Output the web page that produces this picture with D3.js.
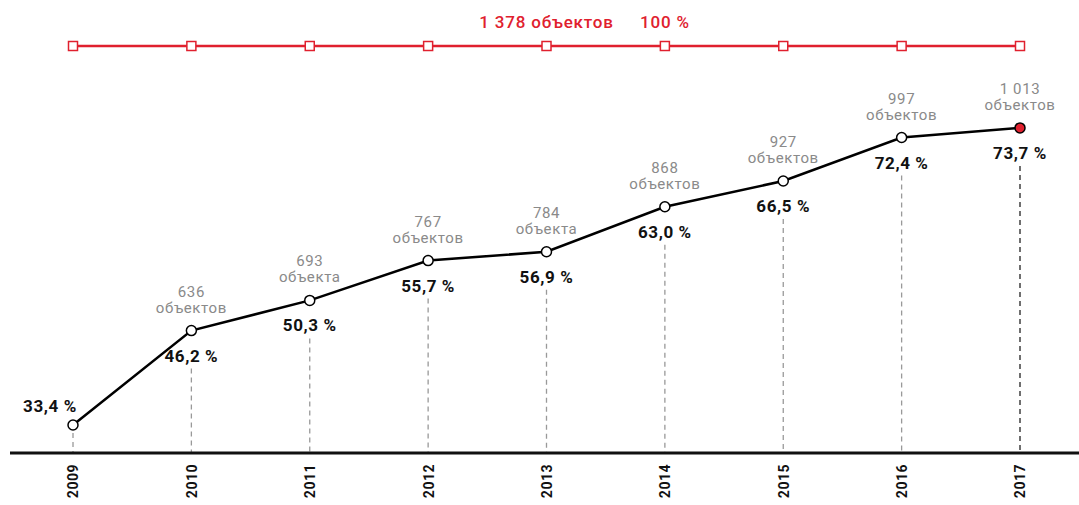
<!DOCTYPE html>
<html>
<head>
<meta charset="utf-8">
<script src="https://cdn.jsdelivr.net/npm/d3@7"></script>
<style>
  body { margin: 0; background: #fff; }
  svg text { font-family: Roboto, "DejaVu Sans", sans-serif; }
</style>
</head>
<body>
<div id="chart"></div>
<script>
// Data
const years = ["2009", "2010", "2011", "2012", "2013", "2014", "2015", "2016", "2017"];
const percents = [33.4, 46.2, 50.3, 55.7, 56.9, 63.0, 66.5, 72.4, 73.7];
const counts = [null, 636, 693, 767, 784, 868, 927, 997, 1013];
const countWords = [null, "объектов", "объекта", "объектов", "объекта", "объектов", "объектов", "объектов", "объектов"];
const totalLabel = "1 378 объектов";
const totalPercent = "100 %";

const width = 1079, height = 505;
const red = "#e0202e", grey = "#8a8a8a";

const svg = d3.select("#chart").append("svg")
    .attr("width", width)
    .attr("height", height);

// scales
const x = d3.scalePoint().domain(years).range([73, 1020]);
const y = d3.scaleLinear().domain([30, 80]).range([450, 81.5]);
const axisY = 453;

const fmt = v => v.toFixed(1).replace(".", ",") + " %";
const fmtCount = v => v >= 1000 ? Math.floor(v / 1000) + " " + String(v % 1000).padStart(3, "0") : String(v);

// top red line (total)
svg.append("line")
    .attr("x1", x(years[0])).attr("x2", x(years[years.length - 1]))
    .attr("y1", 46).attr("y2", 46)
    .attr("stroke", red).attr("stroke-width", 2.5);

svg.selectAll(".sq")
    .data(years)
    .enter().append("rect")
    .attr("x", d => x(d) - 4.5)
    .attr("y", 46 - 4.5)
    .attr("width", 9).attr("height", 9)
    .attr("fill", "#fff")
    .attr("stroke", red).attr("stroke-width", 1.5);

svg.append("text")
    .attr("x", x("2013")).attr("y", 28)
    .attr("text-anchor", "middle")
    .attr("fill", red).attr("font-size", 17).attr("font-weight", 500)
    .attr("letter-spacing", 0.8)
    .text(totalLabel);

svg.append("text")
    .attr("x", x("2014")).attr("y", 28)
    .attr("text-anchor", "middle")
    .attr("fill", red).attr("font-size", 17).attr("font-weight", 500)
    .attr("letter-spacing", 0.8)
    .text(totalPercent);

// dashed drop lines
svg.selectAll(".drop")
    .data(years)
    .enter().append("line")
    .attr("x1", d => x(d)).attr("x2", d => x(d))
    .attr("y1", (d, i) => i === 0 ? y(percents[i]) + 8 : y(percents[i]) + 38)
    .attr("y2", axisY)
    .attr("stroke", (d, i) => i === years.length - 1 ? "#222" : "#999")
    .attr("stroke-width", 1.3)
    .attr("stroke-dasharray", "5,4");

// axis
const xAxis = svg.append("g")
    .attr("transform", `translate(0,${axisY})`)
    .call(d3.axisBottom(x).tickSize(0).tickPadding(0));
xAxis.select(".domain").remove();
xAxis.append("line")
    .attr("x1", 10).attr("x2", width)
    .attr("stroke", "#111").attr("stroke-width", 3);
xAxis.selectAll(".tick text")
    .attr("transform", "rotate(-90)")
    .attr("x", -11).attr("y", 0).attr("dy", "0.35em")
    .attr("text-anchor", "end")
    .attr("fill", "#111")
    .attr("font-size", 14).attr("font-weight", 700)
    .attr("letter-spacing", 0.5)
    .style("font-family", "Roboto, sans-serif");

// main line
const line = d3.line()
    .x((d, i) => x(years[i]))
    .y(d => y(d));

svg.append("path")
    .datum(percents)
    .attr("fill", "none")
    .attr("stroke", "#000")
    .attr("stroke-width", 2.5)
    .attr("d", line);

svg.selectAll(".pt")
    .data(percents)
    .enter().append("circle")
    .attr("cx", (d, i) => x(years[i]))
    .attr("cy", d => y(d))
    .attr("r", 5)
    .attr("fill", (d, i) => i === percents.length - 1 ? red : "#fff")
    .attr("stroke", "#000").attr("stroke-width", 1.5);

// percent labels
svg.selectAll(".pct")
    .data(percents)
    .enter().append("text")
    .attr("x", (d, i) => i === 0 ? 50 : x(years[i]))
    .attr("y", (d, i) => i === 0 ? y(d) - 13 : y(d) + 31)
    .attr("text-anchor", "middle")
    .attr("fill", "#111")
    .attr("font-size", 17).attr("font-weight", 700)
    .attr("letter-spacing", 0.6)
    .text(fmt);

// count labels
const cg = svg.selectAll(".cnt")
    .data(counts.map((c, i) => ({ c, w: countWords[i], i })).filter(d => d.c !== null))
    .enter().append("g");

cg.append("text")
    .attr("x", d => x(years[d.i]))
    .attr("y", d => y(percents[d.i]) - 34)
    .attr("text-anchor", "middle")
    .attr("fill", grey).attr("font-size", 15)
    .attr("letter-spacing", 0.6)
    .text(d => fmtCount(d.c));

cg.append("text")
    .attr("x", d => x(years[d.i]))
    .attr("y", d => y(percents[d.i]) - 18)
    .attr("text-anchor", "middle")
    .attr("fill", grey).attr("font-size", 15)
    .attr("letter-spacing", 0.6)
    .text(d => d.w);
</script>
</body>
</html>
